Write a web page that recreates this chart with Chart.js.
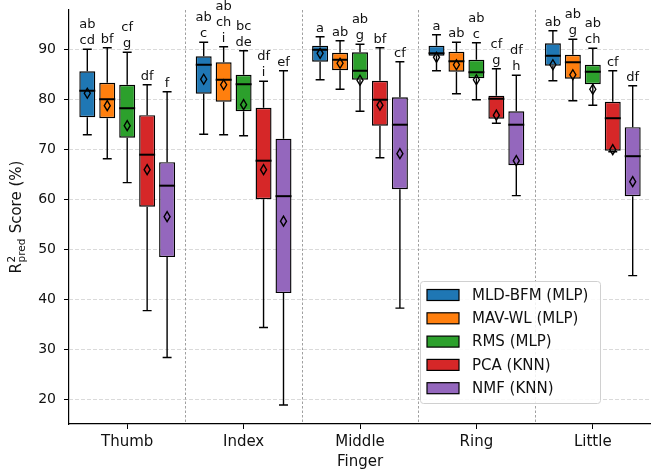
<!DOCTYPE html>
<html><head><meta charset="utf-8">
<script src="https://cdn.jsdelivr.net/npm/chart.js@4"></script>
<style>html,body{margin:0;padding:0;background:#fff}#wrap{width:651px;height:474px}</style>
</head><body><div id="wrap"><canvas id="c" width="651" height="474"></canvas></div>
<script>
const fingers = ['Thumb', 'Index', 'Middle', 'Ring', 'Little'];
const methods = ['MLD-BFM (MLP)', 'MAV-WL (MLP)', 'RMS (MLP)', 'PCA (KNN)', 'NMF (KNN)'];
const colors = ['#1f77b4', '#ff7f0e', '#2ca02c', '#d62728', '#9467bd'];
const yTicks = [20, 30, 40, 50, 60, 70, 80, 90];

// rows = methods, columns = fingers
const whiskerLow = [
  [72.9, 73.0, 83.9, 85.7, 83.7],
  [68.1, 72.9, 82.0, 81.1, 79.7],
  [63.3, 72.7, 77.6, 79.9, 78.8],
  [37.7, 34.3, 68.3, 75.2, 69.5],
  [28.3, 18.8, 38.2, 60.7, 44.7]
];
const q1 = [
  [76.4, 81.1, 87.5, 88.7, 86.7],
  [76.2, 79.5, 85.8, 85.5, 84.1],
  [72.3, 77.6, 83.9, 84.2, 83.0],
  [58.5, 60.0, 74.7, 76.1, 69.7],
  [48.4, 41.2, 62.0, 66.8, 60.6]
];
const median = [
  [81.7, 86.9, 89.9, 89.2, 88.7],
  [80.0, 83.9, 87.9, 87.6, 87.4],
  [78.2, 83.0, 85.7, 85.4, 85.5],
  [68.9, 67.7, 79.9, 80.1, 76.2],
  [62.7, 60.6, 74.9, 74.9, 68.6]
];
const q3 = [
  [85.6, 88.6, 90.7, 90.7, 91.2],
  [83.3, 87.4, 89.3, 89.5, 88.9],
  [82.9, 84.9, 89.4, 87.9, 86.9],
  [76.8, 78.3, 83.7, 80.7, 79.5],
  [67.4, 72.1, 80.4, 77.6, 74.4]
];
const whiskerHigh = [
  [90.0, 91.4, 92.5, 92.9, 93.7],
  [90.3, 90.5, 91.7, 91.4, 92.0],
  [89.4, 89.7, 91.0, 91.3, 90.2],
  [82.9, 83.6, 90.3, 86.1, 85.7],
  [81.5, 85.7, 87.5, 84.8, 82.7]
];
const means = [
  [81.2, 84.0, 89.2, 88.4, 86.9],
  [78.7, 82.9, 87.2, 86.9, 84.9],
  [74.7, 78.9, 83.8, 83.9, 82.0],
  [65.9, 65.9, 78.8, 76.8, 69.9],
  [56.5, 55.6, 69.1, 67.7, 63.5]
];
const sigLabels = [
  ['ab\ncd', 'ab\nc', 'a', 'a', 'ab'],
  ['bf', 'ab\nch\ni', 'ab', 'ab', 'ab\ng'],
  ['cf\ng', 'bc\nde', 'ab\ng', 'ab\nc', 'ab\nch'],
  ['df', 'df\ni', 'bf', 'cf\ng', 'cf'],
  ['f', 'ef', 'cf', 'df\nh', 'df']
];

const FONT = 'DejaVu Sans';
const TXT = '#111';

const boxPlugin = {
  id: 'boxExtras',
  beforeDatasetsDraw(chart) {
    const {ctx, chartArea: ca, scales: {x, y}} = chart;
    ctx.save();
    ctx.strokeStyle = 'rgba(170,170,170,0.55)';
    ctx.lineWidth = 0.8;
    ctx.setLineDash([4, 2]);
    yTicks.forEach(v => {
      const py = Math.round(y.getPixelForValue(v)) + 0.5;
      ctx.beginPath(); ctx.moveTo(ca.left, py); ctx.lineTo(ca.right, py); ctx.stroke();
    });
    ctx.strokeStyle = '#888';
    ctx.setLineDash([2.5, 2]);
    for (let i = 0; i < fingers.length - 1; i++) {
      const px = Math.round((x.getPixelForValue(i) + x.getPixelForValue(i + 1)) / 2) + 0.5;
      ctx.beginPath(); ctx.moveTo(px, ca.top); ctx.lineTo(px, ca.bottom); ctx.stroke();
    }
    ctx.restore();
  },
  afterDatasetsDraw(chart) {
    const {ctx, scales: {y}} = chart;
    ctx.save();
    chart.data.datasets.forEach((ds, d) => {
      const meta = chart.getDatasetMeta(d);
      meta.data.forEach((bar, i) => {
        const cx = bar.x, w = bar.width;
        const cap = w * 0.28;
        const pLo = y.getPixelForValue(whiskerLow[d][i]);
        const pQ1 = y.getPixelForValue(q1[d][i]);
        const pQ3 = y.getPixelForValue(q3[d][i]);
        const pHi = y.getPixelForValue(whiskerHigh[d][i]);
        const pMed = y.getPixelForValue(median[d][i]);
        const pMean = y.getPixelForValue(means[d][i]);
        ctx.strokeStyle = '#000';
        ctx.lineWidth = 1.4;
        ctx.setLineDash([]);
        ctx.beginPath();
        ctx.moveTo(cx, pQ3); ctx.lineTo(cx, pHi);
        ctx.moveTo(cx - cap, pHi); ctx.lineTo(cx + cap, pHi);
        ctx.moveTo(cx, pQ1); ctx.lineTo(cx, pLo);
        ctx.moveTo(cx - cap, pLo); ctx.lineTo(cx + cap, pLo);
        ctx.stroke();
        ctx.lineWidth = 2;
        ctx.beginPath();
        ctx.moveTo(cx - w / 2, pMed); ctx.lineTo(cx + w / 2, pMed);
        ctx.stroke();
        ctx.lineWidth = 1.4;
        ctx.beginPath();
        ctx.moveTo(cx, pMean - 5); ctx.lineTo(cx + 3, pMean);
        ctx.lineTo(cx, pMean + 5); ctx.lineTo(cx - 3, pMean); ctx.closePath();
        ctx.stroke();
        ctx.fillStyle = TXT;
        ctx.font = '13px "' + FONT + '"';
        ctx.textAlign = 'center';
        ctx.textBaseline = 'alphabetic';
        const lines = sigLabels[d][i].split('\n');
        lines.forEach((t, k) => {
          const by = pHi - 5 - (lines.length - 1 - k) * 16;
          ctx.fillText(t, cx, by);
        });
      });
    });
    ctx.restore();
  },
  afterDraw(chart) {
    const {ctx, chartArea: ca} = chart;
    ctx.save();
    const lx = 420, ly = 281, lw = 180, lh = 122;
    ctx.fillStyle = 'rgba(255,255,255,0.85)';
    ctx.strokeStyle = '#d0d0d0';
    ctx.lineWidth = 1;
    ctx.beginPath();
    ctx.roundRect(lx + 0.5, ly + 0.5, lw, lh, 3);
    ctx.fill(); ctx.stroke();
    ctx.font = '15px "' + FONT + '"';
    ctx.textAlign = 'left';
    ctx.textBaseline = 'middle';
    methods.forEach((m, k) => {
      const ry = 295 + k * 23.3;
      ctx.fillStyle = colors[k];
      ctx.fillRect(427, ry - 5.5, 32, 11);
      ctx.strokeStyle = '#000';
      ctx.lineWidth = 1.2;
      ctx.strokeRect(427, ry - 5.5, 32, 11);
      ctx.fillStyle = TXT;
      ctx.fillText(m, 472, ry + 1);
    });
    ctx.translate(16, (ca.top + ca.bottom) / 2);
    ctx.rotate(-Math.PI / 2);
    ctx.textBaseline = 'alphabetic';
    ctx.fillStyle = TXT;
    const big = '15px "' + FONT + '"', small = '10.5px "' + FONT + '"';
    ctx.font = big;
    const wR = ctx.measureText('R').width;
    const wS = ctx.measureText(' Score (%)').width;
    ctx.font = small;
    const w2 = ctx.measureText('2').width;
    const wP = ctx.measureText('pred').width;
    const total = wR + Math.max(w2, wP) + 1 + wS;
    let tx = -total / 2;
    const base = 5;
    ctx.font = big; ctx.fillText('R', tx, base); tx += wR;
    ctx.font = small;
    ctx.fillText('2', tx + 0.5, base - 6);
    ctx.fillText('pred', tx + 0.5, base + 4);
    tx += Math.max(w2, wP) + 1;
    ctx.font = big; ctx.fillText(' Score (%)', tx, base);
    ctx.restore();
    ctx.save();
    ctx.font = '15px "' + FONT + '"';
    ctx.fillStyle = TXT;
    ctx.textAlign = 'center';
    ctx.textBaseline = 'middle';
    ctx.fillText('Finger', (ca.left + ca.right) / 2, 462);
    ctx.restore();
  }
};

const datasets = methods.map((m, d) => ({
  label: m,
  data: fingers.map((f, i) => [q1[d][i], q3[d][i]]),
  backgroundColor: colors[d],
  borderColor: '#000',
  borderWidth: 1.4,
  borderSkipped: false,
  categoryPercentage: 0.857,
  barPercentage: 0.8
}));

new Chart(document.getElementById('c'), {
  type: 'bar',
  data: { labels: fingers, datasets },
  options: {
    responsive: false,
    animation: false,
    events: [],
    layout: { padding: { top: 10, left: 0, right: 0, bottom: 0 } },
    plugins: { legend: { display: false }, tooltip: { enabled: false } },
    scales: {
      x: {
        offset: true,
        grid: { display: true, drawOnChartArea: false, drawTicks: true, tickLength: 5, tickColor: '#000', tickWidth: 1, offset: false },
        border: { display: true, color: '#000', width: 1.2 },
        ticks: { color: TXT, font: { family: FONT, size: 15 }, padding: 4 },
        afterFit(s) { s.height = 50; s.paddingLeft = 0; s.paddingRight = 0; }
      },
      y: {
        min: 15, max: 97.86,
        grid: { display: true, drawOnChartArea: false, drawTicks: true, tickLength: 5, tickColor: '#000', tickWidth: 1 },
        border: { display: true, color: '#000', width: 1.2 },
        ticks: { color: TXT, font: { family: FONT, size: 14 }, padding: 8 },
        afterBuildTicks(s) { s.ticks = yTicks.map(v => ({ value: v })); },
        afterFit(s) { s.width = 69; s.paddingTop = 0; s.paddingBottom = 0; }
      }
    }
  },
  plugins: [boxPlugin]
});
</script>
</body></html>
